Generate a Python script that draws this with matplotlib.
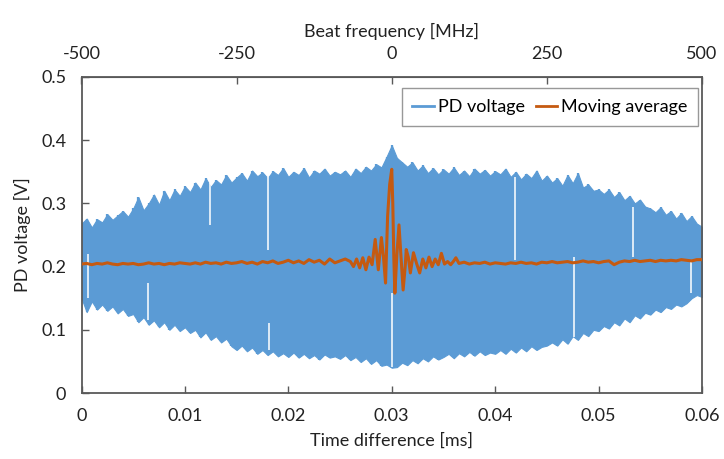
import numpy as np
import matplotlib
matplotlib.use("Agg")
import matplotlib.pyplot as plt

plt.rcParams['font.family'] = ['Lato', 'DejaVu Sans']

# ---------------- data ----------------
# PD voltage envelope (upper / lower), sampled every 0.0005 ms from 0 to 0.06 ms
env_t_start, env_t_stop = 0.0, 0.06
pd_upper = [
    0.268, 0.276, 0.262, 0.275, 0.270, 0.283, 0.274, 0.281, 0.288, 0.279, 0.292,
    0.310, 0.289, 0.300, 0.314, 0.298, 0.320, 0.305, 0.322, 0.312, 0.327,
    0.318, 0.333, 0.322, 0.340, 0.326, 0.337, 0.330, 0.345, 0.333, 0.341,
    0.348, 0.336, 0.352, 0.343, 0.349, 0.340, 0.351, 0.345, 0.356, 0.342,
    0.350, 0.345, 0.356, 0.341, 0.352, 0.347, 0.355, 0.344, 0.350, 0.346,
    0.352, 0.342, 0.355, 0.348, 0.358, 0.352, 0.362, 0.357, 0.374, 0.392,
    0.372, 0.365, 0.358, 0.365, 0.352, 0.360, 0.348, 0.356, 0.346, 0.354,
    0.347, 0.357, 0.345, 0.352, 0.343, 0.355, 0.347, 0.353, 0.344, 0.351,
    0.346, 0.355, 0.342, 0.350, 0.338, 0.347, 0.340, 0.352, 0.336, 0.344,
    0.333, 0.340, 0.328, 0.345, 0.332, 0.348, 0.325, 0.330, 0.320, 0.322,
    0.315, 0.322, 0.310, 0.318, 0.305, 0.312, 0.300, 0.306, 0.295, 0.292,
    0.286, 0.294, 0.282, 0.288, 0.276, 0.285, 0.272, 0.280, 0.268, 0.263,
]
pd_lower = [
    0.150, 0.128, 0.145, 0.132, 0.140, 0.130, 0.137, 0.126, 0.133, 0.122, 0.125,
    0.112, 0.120, 0.108, 0.115, 0.104, 0.112, 0.100, 0.108, 0.098, 0.104,
    0.095, 0.100, 0.088, 0.096, 0.084, 0.090, 0.080, 0.086, 0.074, 0.068,
    0.075, 0.066, 0.072, 0.062, 0.068, 0.060, 0.066, 0.058, 0.063, 0.057,
    0.064, 0.056, 0.062, 0.055, 0.060, 0.053, 0.061, 0.056, 0.058, 0.054,
    0.060, 0.052, 0.057, 0.049, 0.055, 0.046, 0.052, 0.043, 0.045, 0.040,
    0.041, 0.048, 0.044, 0.052, 0.047, 0.055, 0.050, 0.058, 0.053, 0.057,
    0.062, 0.055, 0.063, 0.058, 0.065, 0.059, 0.066, 0.060, 0.064, 0.062,
    0.068, 0.062, 0.070, 0.064, 0.072, 0.066, 0.074, 0.068, 0.073, 0.075,
    0.080, 0.075, 0.085, 0.078, 0.090, 0.084, 0.095, 0.090, 0.100, 0.098,
    0.106, 0.102, 0.112, 0.107, 0.118, 0.112, 0.123, 0.118, 0.127, 0.124,
    0.132, 0.128, 0.136, 0.133, 0.140, 0.137, 0.142, 0.150, 0.155, 0.152,
]

# White dropout streaks visible inside the PD voltage trace: (time, v_low, v_high)
gap_t = [0.00066, 0.0064, 0.0124, 0.0180, 0.0181, 0.0300, 0.0419, 0.0476, 0.0533, 0.0589]
gap_lo = [0.150, 0.116, 0.266, 0.226, 0.068, 0.041, 0.210, 0.089, 0.215, 0.158]
gap_hi = [0.220, 0.174, 0.333, 0.342, 0.110, 0.158, 0.342, 0.215, 0.294, 0.210]

# Moving average: left part (0 .. 0.0255 ms, every 0.0005 ms)
ma_left = [
    0.204, 0.205, 0.203, 0.205, 0.204, 0.206, 0.204, 0.203, 0.205, 0.204,
    0.205, 0.203, 0.204, 0.206, 0.204, 0.205, 0.203, 0.205, 0.204, 0.206,
    0.205, 0.204, 0.206, 0.204, 0.207, 0.205, 0.206, 0.204, 0.207, 0.205,
    0.206, 0.208, 0.205, 0.207, 0.204, 0.208, 0.206, 0.209, 0.205, 0.207,
    0.210, 0.206, 0.209, 0.205, 0.211, 0.207, 0.210, 0.204, 0.212, 0.206,
    0.209, 0.212,
]
# Moving average: central part (explicit times)
ma_mid_t = [0.0260, 0.0263, 0.0266, 0.0269, 0.0272, 0.0275, 0.0278, 0.0281, 0.0284,
            0.0287, 0.0290, 0.0292, 0.0294, 0.0296, 0.0298, 0.0300, 0.0301, 0.0302,
            0.0303, 0.0305, 0.0307, 0.0309, 0.0311, 0.0313, 0.0314, 0.0316, 0.0318,
            0.0321, 0.0324, 0.0327, 0.0330, 0.0333, 0.0336, 0.0339, 0.0342, 0.0345,
            0.0348, 0.0351, 0.0354, 0.0357, 0.0360, 0.0362, 0.0365]
ma_mid = [0.208, 0.200, 0.212, 0.198, 0.214, 0.195, 0.215, 0.203, 0.243,
          0.195, 0.246, 0.215, 0.174, 0.280, 0.330, 0.354, 0.300, 0.215,
          0.158, 0.220, 0.266, 0.215, 0.163, 0.200, 0.227, 0.215, 0.190,
          0.222, 0.205, 0.190, 0.212, 0.198, 0.215, 0.200, 0.212, 0.203,
          0.221, 0.204, 0.208, 0.203, 0.209, 0.214, 0.205]
# Moving average: right part (0.037 .. 0.060 ms, every 0.0005 ms)
ma_right = [
    0.207, 0.204, 0.206, 0.205, 0.207, 0.204, 0.206, 0.205, 0.204, 0.206,
    0.205, 0.207, 0.205, 0.206, 0.204, 0.207, 0.206, 0.208, 0.206, 0.207,
    0.208, 0.206, 0.207, 0.209, 0.207, 0.208, 0.206, 0.208, 0.209, 0.203,
    0.207, 0.209, 0.208, 0.210, 0.208, 0.209, 0.210, 0.208, 0.210, 0.209,
    0.210, 0.209, 0.211, 0.210, 0.209, 0.211, 0.211,
]

x_ticks = [0, 0.01, 0.02, 0.03, 0.04, 0.05, 0.06]
x_ticklabels = ['0', '0.01', '0.02', '0.03', '0.04', '0.05', '0.06']
y_ticks = [0, 0.1, 0.2, 0.3, 0.4, 0.5]
y_ticklabels = ['0', '0.1', '0.2', '0.3', '0.4', '0.5']
f_ticks = [-500, -250, 0, 250, 500]
f_ticklabels = ['-500', '-250', '0', '250', '500']

# ---------------- plot ----------------
BLUE = '#5B9BD5'
ORANGE = '#C55A11'
AXC = '#595959'
FS = 13

env_t = np.linspace(env_t_start, env_t_stop, len(pd_upper))
ma_t = np.concatenate([
    np.linspace(0.0, 0.0005 * (len(ma_left) - 1), len(ma_left)),
    np.array(ma_mid_t),
    np.linspace(0.037, 0.037 + 0.0005 * (len(ma_right) - 1), len(ma_right)),
])
ma_v = np.concatenate([ma_left, ma_mid, ma_right])

fig = plt.figure(figsize=(7.24, 4.59), dpi=100)
ax = fig.add_axes([81.5 / 724, 1 - 393 / 459, 620.5 / 724, 316 / 459])

ax.fill_between(env_t, pd_lower, pd_upper, color=BLUE, lw=0.8,
                edgecolor=BLUE, zorder=2)
ax.vlines(env_t, pd_lower, pd_upper, colors=BLUE, lw=1.6, zorder=2)
ax.vlines(gap_t, gap_lo, gap_hi, colors='white', lw=1.3, alpha=0.85, zorder=3)
ax.plot(ma_t, ma_v, color=ORANGE, lw=2.2, zorder=4)

# legend handles
h1, = ax.plot([], [], color=BLUE, lw=2, label='PD voltage')
h2, = ax.plot([], [], color=ORANGE, lw=2, label='Moving average')

ax.set_xlim(0, 0.06)
ax.set_ylim(0, 0.5)
ax.set_xticks(x_ticks)
ax.set_xticklabels(x_ticklabels)
ax.set_yticks(y_ticks)
ax.set_yticklabels(y_ticklabels)
ax.tick_params(direction='in', length=5, width=1, color=AXC, labelsize=FS,
               pad=11, labelcolor='#222222')
for s in ax.spines.values():
    s.set_color(AXC)
    s.set_linewidth(1.3)
ax.set_xlabel('Time difference [ms]', fontsize=FS, labelpad=6, color='#222222')
ax.set_ylabel('PD voltage [V]', fontsize=FS, labelpad=7, color='#222222')

sec = ax.secondary_xaxis('top', functions=(lambda t: (t - 0.03) / 0.03 * 500,
                                            lambda f: f / 500 * 0.03 + 0.03))
sec.set_xticks(f_ticks)
sec.set_xticklabels(f_ticklabels)
sec.tick_params(direction='in', length=5, width=1, color=AXC, labelsize=FS,
                pad=11, labelcolor='#222222')
sec.spines['top'].set_color(AXC)
sec.set_xlabel('Beat frequency [MHz]', fontsize=FS, labelpad=6, color='#222222')

leg = ax.legend(handles=[h1, h2], loc='upper right', bbox_to_anchor=(0.9936, 0.965),
                borderaxespad=0, ncol=2, fontsize=FS, frameon=True, fancybox=False,
                handlelength=1.2, handletextpad=0.2, columnspacing=0.6,
                borderpad=0.6, edgecolor='#7f7f7f')
leg.get_frame().set_linewidth(1.0)

fig.savefig('out.png', dpi=100)
